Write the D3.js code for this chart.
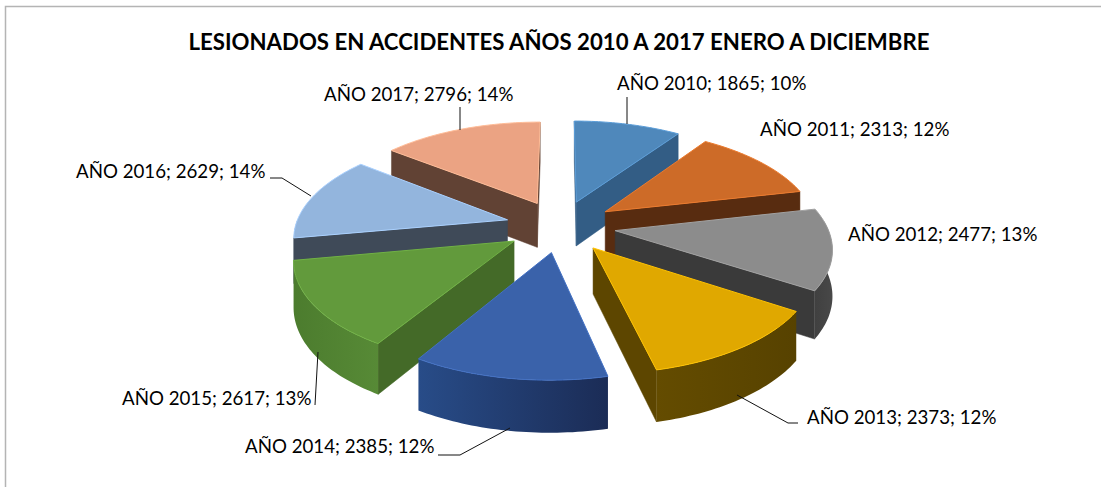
<!DOCTYPE html>
<html>
<head>
<meta charset="utf-8">
<script src="https://cdn.jsdelivr.net/npm/d3@7"></script>
<style>
  html, body { margin: 0; background: #fff; }
  text { font-family: Lato, "Open Sans", sans-serif; fill: #000; }
</style>
</head>
<body>
<script>
var width = 1101;
var height = 487;

// values
var years = ['AÑO 2010', 'AÑO 2011', 'AÑO 2012', 'AÑO 2013', 'AÑO 2014', 'AÑO 2015', 'AÑO 2016', 'AÑO 2017'];
var injured = [1865, 2313, 2477, 2373, 2385, 2617, 2629, 2796];
var chartTitle = 'LESIONADOS EN ACCIDENTES AÑOS 2010 A 2017 ENERO A DICIEMBRE';

var topColors = ['#4f88bb', '#cd6b28', '#8c8c8c', '#e0a800', '#3a62aa', '#629a3c', '#93b5dd', '#eba383'];
var wallColors = ['#335d85', '#582c10', '#3a3a3a', '#5d4600', '#2c4f8c', '#446a28', '#3f4a58', '#614234'];
var outerStart = ['#335d85', '#582c10', '#404040', '#644c00', '#284c88', '#4c7c2e', '#3f4a58', '#614234'];
var outerEnd = ['#335d85', '#582c10', '#484848', '#574200', '#1b2c56', '#578a36', '#3f4a58', '#614234'];

// label anchor + leader line for each slice, same order as years
var labelPos = [
  {x: 617, y: 90, line: [[627, 97], [627, 124]]},
  {x: 760, y: 136, line: []},
  {x: 848, y: 241, line: []},
  {x: 807, y: 424, line: [[798, 423], [788, 423], [737, 395]]},
  {x: 245, y: 453, line: [[438, 455], [460, 455], [510, 428]]},
  {x: 122, y: 405, line: [[315, 405], [318, 352]]},
  {x: 76, y: 178, line: [[270, 178], [282, 178], [311, 196]]},
  {x: 324, y: 101, line: [[460, 107], [460, 130]]}
];

// projection of the tilted pie
var explode = 0.26;
var perspective = 0.149;
var x = d3.scaleLinear().domain([-1, 1]).range([348.5, 772.5]);
var y = d3.scaleLinear().domain([-1, 1]).range([126.3, 325.7]);

function project(u, v, lowered) {
  var s = 1 / (1 - perspective * v);
  var py = y(v * s);
  if (lowered) py += 45 * Math.pow(s, 0.75);
  return [x(u * s), py];
}

var svg = d3.select('body').append('svg')
  .attr('width', width)
  .attr('height', height)
  .style('display', 'block');

var defs = svg.append('defs');

// chart frame, only the top and left sides are in the picture
svg.append('path')
  .attr('d', 'M5.5,487V6.5H1101')
  .attr('fill', 'none')
  .attr('stroke', '#b4b4b4')
  .attr('stroke-width', 1.5);

svg.append('text')
  .attr('x', 559)
  .attr('y', 50)
  .attr('text-anchor', 'middle')
  .attr('font-size', 22.2)
  .attr('font-weight', 700)
  .text(chartTitle);

var pie = d3.pie().sort(null);
var total = d3.sum(injured);
var pct = d3.format('.0%');
var line = d3.line();

var arcs = pie(injured).map(function(d, i) {
  var mid = (d.startAngle + d.endAngle) / 2;
  var apexU = explode * Math.sin(mid);
  var apexV = -explode * Math.cos(mid);
  return {
    i: i,
    mid: mid,
    start: d.startAngle,
    end: d.endAngle,
    pt: function(a, lowered) {
      return project(apexU + Math.sin(a), apexV - Math.cos(a), lowered);
    },
    apex: project(apexU, apexV, false),
    apexLow: project(apexU, apexV, true)
  };
});

// far slices first
arcs.sort(function(a, b) { return d3.descending(Math.cos(a.mid), Math.cos(b.mid)); });

function sampleAngles(a0, a1) {
  var n = Math.max(2, Math.ceil((a1 - a0) / 0.02));
  return d3.range(n + 1).map(function(k) { return a0 + (a1 - a0) * k / n; });
}

// a radial wall only shows when the slice top lies above that edge
function wallVisible(s, edgeAngle) {
  var p = s.pt(edgeAngle, false);
  var m = s.pt(s.mid, false);
  var dx = p[0] - s.apex[0];
  if (Math.abs(dx) < 1) return false;
  var yOnEdge = s.apex[1] + (p[1] - s.apex[1]) * (m[0] - s.apex[0]) / dx;
  return m[1] < yOnEdge;
}

var slices = svg.selectAll('.slice')
  .data(arcs)
  .enter()
  .append('g')
  .attr('class', 'slice');

slices.each(function(s) {
  var g = d3.select(this);

  [s.start, s.end].forEach(function(a) {
    if (!wallVisible(s, a)) return;
    g.append('path')
      .attr('d', line([s.apex, s.pt(a, false), s.pt(a, true), s.apexLow]) + 'Z')
      .attr('fill', wallColors[s.i])
      .attr('stroke', wallColors[s.i])
      .attr('stroke-width', 0.5);
  });

  // outer wall, only the part turned towards the viewer
  var a0 = Math.max(s.start, Math.PI * 0.47);
  var a1 = Math.min(s.end, Math.PI * 1.5);
  if (a1 > a0) {
    var id = 'outer' + s.i;
    var grad = defs.append('linearGradient').attr('id', id);
    grad.append('stop').attr('offset', '0%').attr('stop-color', outerStart[s.i]);
    grad.append('stop').attr('offset', '100%').attr('stop-color', outerEnd[s.i]);
    var angles = sampleAngles(a0, a1);
    var upper = angles.map(function(a) { return s.pt(a, false); });
    var lower = angles.slice().reverse().map(function(a) { return s.pt(a, true); });
    g.append('path')
      .attr('d', line(upper.concat(lower)) + 'Z')
      .attr('fill', 'url(#' + id + ')');
  }

  var rim = sampleAngles(s.start, s.end).map(function(a) { return s.pt(a, false); });
  g.append('path')
    .attr('d', line([s.apex].concat(rim)) + 'Z')
    .attr('fill', topColors[s.i])
    .attr('stroke', d3.color(topColors[s.i]).brighter(0.4))
    .attr('stroke-width', 1)
    .attr('stroke-linejoin', 'round');
});

// leader lines
svg.selectAll('.leader')
  .data(labelPos.filter(function(d) { return d.line.length; }))
  .enter()
  .append('path')
  .attr('class', 'leader')
  .attr('d', function(d) { return line(d.line); })
  .attr('fill', 'none')
  .attr('stroke', '#111')
  .attr('stroke-width', 1);

svg.selectAll('.label')
  .data(years)
  .enter()
  .append('text')
  .attr('class', 'label')
  .attr('x', function(d, i) { return labelPos[i].x; })
  .attr('y', function(d, i) { return labelPos[i].y; })
  .attr('font-size', 18.7)
  .text(function(d, i) { return d + '; ' + injured[i] + '; ' + pct(injured[i] / total); });
</script>
</body>
</html>
